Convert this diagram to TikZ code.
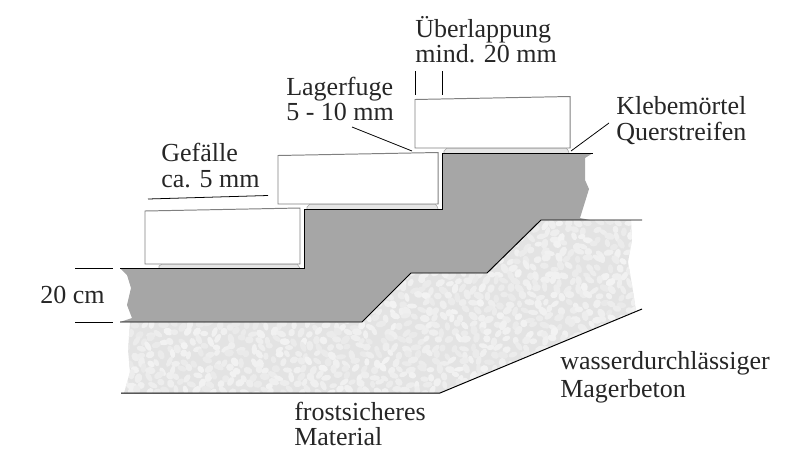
\documentclass[tikz,border=0pt]{standalone}
\usepackage{fontspec}
\setmainfont{Liberation Serif}
\usetikzlibrary{positioning}
\definecolor{gravelbg}{HTML}{E3E3E3}
\definecolor{gravelstone}{HTML}{F3F3F3}
\definecolor{concrete}{HTML}{A6A6A6}
\definecolor{mortar}{HTML}{E6E6E6}
\definecolor{slabline}{HTML}{808080}
\tikzstyle{label} = [inner sep=0pt, anchor=base west, font=\fontsize{18.5}{18.5}\selectfont, text=black!85]
\tikzstyle{slab} = [draw=slabline, fill=white, line width=0.7pt]
\tikzstyle{strip} = [draw=slabline!70, fill=mortar, line width=0.4pt]
\tikzstyle{edgeline} = [black, line width=0.7pt]
\tikzstyle{leader} = [black, line width=0.55pt]
\begin{document}
\begin{tikzpicture}[x=0.025cm,y=-0.025cm]
	\useasboundingbox (0,0) rectangle (800,474);
	% gravel
	\begin{scope}
		\clip (130,322) -- (362,322) -- (411,273) -- (487,273) -- (541,220) -- (631,220) -- (632,240) -- (628,262) -- (632,285) -- (636,311) -- (440,393) -- (124,393) -- (130,372) -- (128,350) -- cycle;
		\fill [gravelbg] (100,200) rectangle (660,400);
		\pgfmathsetseed{4711}
		\foreach \row in {0,...,25} {
			\foreach \col in {0,...,55} {
				\pgfmathsetmacro{\gx}{120+\col*9.5+mod(\row,2)*4.7+rand*3}
				\pgfmathsetmacro{\gy}{216+\row*7.3+rand*2.5}
				\pgfmathsetmacro{\grot}{rnd*180}
				\pgfmathsetmacro{\gw}{3.6+rnd*2}
				\pgfmathsetmacro{\gh}{2.4+rnd*1.3}
				\pgfmathtruncatemacro{\gmix}{40+rnd*60}
				\fill [gravelstone!\gmix!gravelbg, rotate around={\grot:(\gx,\gy)}] (\gx,\gy) ellipse [x radius=\gw, y radius=\gh];
			}
		}
	\end{scope}
	% concrete
	\fill [concrete] (120,268) -- (304,268) -- (304,209) -- (442,209) -- (442,153) -- (593,153) -- (585,158) -- (585,180) -- (589,189) -- (580,218) -- (590,220) -- (541,220) -- (487,273) -- (411,273) -- (362,322) -- (120,322) -- (132,318) -- (127,305) -- (131,288) -- (127,275) -- cycle;
	% mortar strips
	\draw [strip] (159,268) -- (159,266) to[bend left=20] (162,264) -- (297,264) to[bend left=20] (300,268);
	\draw [strip] (307,209) -- (307,207) to[bend left=20] (310,204) -- (435,204) to[bend left=20] (438,209);
	\draw [strip] (444,153) -- (444,151) to[bend left=20] (447,148) -- (566,148) to[bend left=20] (569,153);
	% slabs
	\draw [slab] (145,211) -- (300,208) -- (300,264) -- (145,264) -- cycle;
	\draw [slab] (278,155.5) -- (438,152.5) -- (438,204) -- (278,204) -- cycle;
	\draw [slab] (415,99.5) -- (570,96.5) -- (570,148) -- (415,148) -- cycle;
	% outlines
	\draw [edgeline] (120,268) -- (304,268) -- (304,209) -- (442,209) -- (442,153) -- (593,153);
	\draw [edgeline] (120,322) -- (362,322) -- (411,273) -- (487,273) -- (541,220) -- (642,220);
	\draw [edgeline] (121,393) -- (440,393) -- (642,309);
	% leader lines
	\coordinate (gefA) at (148,199);
	\coordinate (gefB) at (268,195.5);
	\coordinate (lagA) at (352,127);
	\coordinate (lagB) at (412,151);
	\coordinate (ubA) at (415.5,71);
	\coordinate (ubB) at (415.5,95);
	\coordinate (ubC) at (442.5,71);
	\coordinate (ubD) at (442.5,95);
	\coordinate (klA) at (609,123);
	\coordinate (klB) at (571,151);
	\coordinate (cmA) at (75,268);
	\coordinate (cmB) at (113,268);
	\coordinate (cmC) at (75,322);
	\coordinate (cmD) at (113,322);
	\draw [leader] (gefA) -- (gefB);
	\draw [leader] (lagA) -- (lagB);
	\draw [leader] (ubA) -- (ubB);
	\draw [leader] (ubC) -- (ubD);
	\draw [leader] (klA) -- (klB);
	\draw [leader] (cmA) -- (cmB);
	\draw [leader] (cmC) -- (cmD);
	% labels
	\node (ub1) [label] at (415,37) {Überlappung};
	\node (ub2) [label] at (415,62) {mind. 20 mm};
	\node (lag1) [label] at (286,95) {Lagerfuge};
	\node (lag2) [label] at (286,120) {5 - 10 mm};
	\node (kl1) [label] at (616,114) {Klebemörtel};
	\node (kl2) [label] at (616,140) {Querstreifen};
	\node (gef1) [label] at (161,161) {Gefälle};
	\node (gef2) [label] at (161,187) {ca. 5 mm};
	\node (cm) [label] at (40,303) {20 cm};
	\node (was1) [label] at (560,369) {wasserdurchlässiger};
	\node (was2) [label] at (560,397) {Magerbeton};
	\node (fro1) [label] at (294,420) {frostsicheres};
	\node (fro2) [label] at (294,445) {Material};
\end{tikzpicture}
\end{document}
